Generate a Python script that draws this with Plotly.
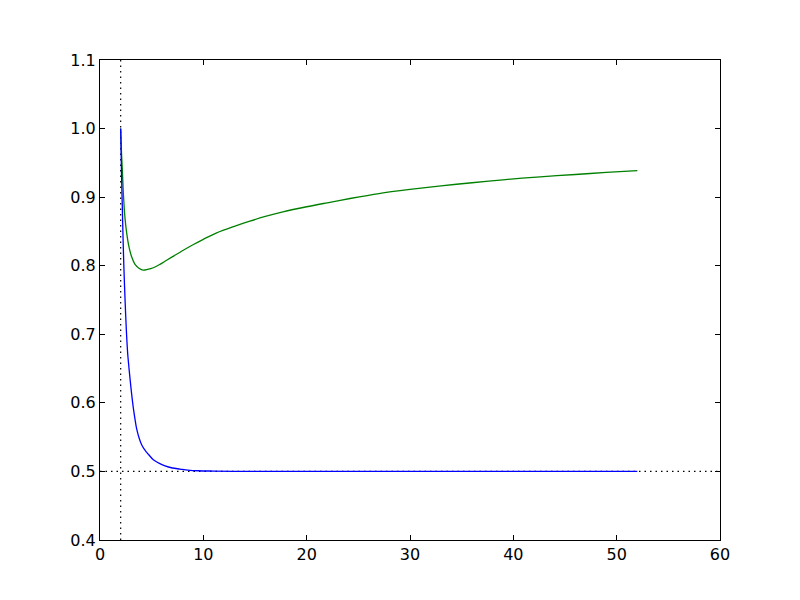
import plotly.graph_objects as go

# values
blue_x = [2.0, 2.08, 2.16, 2.24, 2.32, 2.44, 2.55, 2.68, 2.81, 2.9, 3.06, 3.23,
          3.39, 3.55, 3.8, 4.03, 4.35, 4.68, 5.16, 5.65, 6.29, 7.0, 7.74, 8.5,
          9.5, 11.0, 13.0, 20.0, 30.0, 40.0, 52.0]
blue_y = [1.0, 0.935, 0.885, 0.835, 0.794, 0.745, 0.706, 0.672, 0.65, 0.636,
          0.613, 0.592, 0.576, 0.562, 0.548, 0.539, 0.531, 0.525, 0.517, 0.5125,
          0.508, 0.505, 0.5035, 0.502, 0.501, 0.5005, 0.5, 0.5, 0.5, 0.5, 0.5]

green_x = [2.0, 2.08, 2.16, 2.24, 2.32, 2.42, 2.58, 2.81, 3.06, 3.39, 3.8, 4.19,
           4.6, 5.16, 5.8, 6.45, 7.2, 8.06, 9.0, 10.0, 11.29, 13.0, 14.5, 16.0,
           17.7, 20.0, 22.0, 24.2, 27.0, 30.0, 33.0, 36.0, 39.0, 42.6, 46.0,
           49.0, 52.0]
green_y = [1.0, 0.965, 0.94, 0.912, 0.89, 0.869, 0.848, 0.827, 0.813, 0.802,
           0.796, 0.7935, 0.7945, 0.797, 0.802, 0.808, 0.8148, 0.8225, 0.8305,
           0.8385, 0.848, 0.8575, 0.865, 0.8718, 0.8785, 0.886, 0.8918, 0.898,
           0.9052, 0.9112, 0.9165, 0.921, 0.9253, 0.9296, 0.933, 0.936, 0.9386]

vline_x = 2.0
hline_y = 0.5

x_ticks = [0, 10, 20, 30, 40, 50, 60]
y_ticks = [0.4, 0.5, 0.6, 0.7, 0.8, 0.9, 1.0, 1.1]

fig = go.Figure()

fig.add_trace(go.Scatter(x=green_x, y=green_y, mode="lines",
                         line=dict(color="#008000", width=1.3, shape="spline", smoothing=0.9)))
fig.add_trace(go.Scatter(x=blue_x, y=blue_y, mode="lines",
                         line=dict(color="#0000ff", width=1.3, shape="spline", smoothing=0.9)))

dotted = dict(color="black", width=1.2, dash="1.5px,4px")
fig.add_shape(type="line", xref="x", yref="paper", x0=vline_x, x1=vline_x, y0=0, y1=1,
              line=dotted, layer="below")
fig.add_shape(type="line", xref="paper", yref="y", x0=0, x1=1, y0=hline_y, y1=hline_y,
              line=dotted, layer="below")

axis_common = dict(
    showgrid=False,
    zeroline=False,
    showline=True,
    linecolor="black",
    linewidth=1,
    mirror="ticks",
    ticks="inside",
    ticklen=5,
    tickwidth=1,
    tickcolor="black",
    tickfont=dict(family="DejaVu Sans", size=16, color="black"),
)

fig.update_xaxes(range=[0, 60], tickvals=x_ticks, **axis_common)
fig.update_yaxes(range=[0.4, 1.1], tickvals=y_ticks, tickformat=".1f", **axis_common)

# the page adds an 8px body margin, so shift the plot area back by that much
fig.update_layout(
    width=800,
    height=600,
    margin={"l": 92, "r": 88, "t": 52, "b": 68},
    paper_bgcolor="white",
    plot_bgcolor="white",
    showlegend=False,
)

fig.write_html("out.html")
